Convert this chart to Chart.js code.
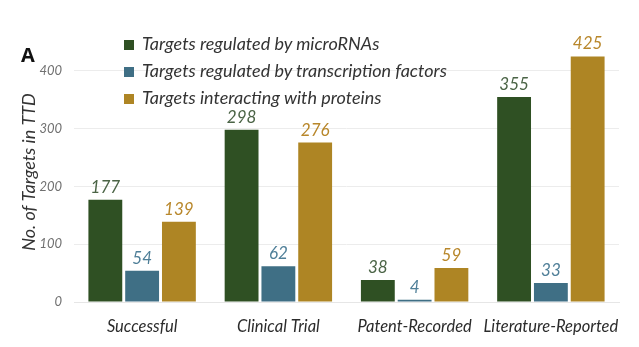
<!DOCTYPE html>
<html>
<head>
<meta charset="utf-8">
<script src="https://cdn.jsdelivr.net/npm/chart.js@4/dist/chart.umd.min.js"></script>
<style>
  html, body { margin: 0; padding: 0; background: #ffffff; }
  #wrap { position: relative; width: 639px; height: 347px; }
  #c { position: absolute; left: 0; top: 0; }
  #panelLetter { position: absolute; left: 21px; top: 41px; font: bold 20px "Open Sans", sans-serif; color: #111; }
  #legend { position: absolute; left: 124px; top: 32px; font: italic 18px Lato, sans-serif; color: #333; }
  #legend div { height: 26.8px; line-height: 22px; white-space: nowrap; }
  #legend span.box { display: inline-block; width: 10px; height: 10px; margin-right: 8px; vertical-align: 0px; }
</style>
</head>
<body>
<div id="wrap">
  <canvas id="c" width="639" height="347"></canvas>
  <div id="panelLetter">A</div>
  <div id="legend"></div>
</div>
<script>
const categories = ["Successful", "Clinical Trial", "Patent-Recorded", "Literature-Reported"];
const seriesNames = ["Targets regulated by microRNAs", "Targets regulated by transcription factors", "Targets interacting with proteins"];
const microRNA = [177, 298, 38, 355];
const transcriptionFactors = [54, 62, 4, 33];
const proteins = [139, 276, 59, 425];
const yTicks = [0, 100, 200, 300, 400];

const barColors = ["#2f5023", "#3f6f85", "#ae8524"];
const labelColors = ["#4b6446", "#4f7f98", "#b8872b"];
const seriesValues = [microRNA, transcriptionFactors, proteins];

const legendEl = document.getElementById('legend');
seriesNames.forEach((n, i) => {
  const d = document.createElement('div');
  const b = document.createElement('span');
  b.className = 'box';
  b.style.background = barColors[i];
  d.appendChild(b);
  d.appendChild(document.createTextNode(n));
  legendEl.appendChild(d);
});

const valueLabels = {
  id: 'valueLabels',
  afterDatasetsDraw(chart) {
    const ctx = chart.ctx;
    ctx.save();
    ctx.font = 'italic 17px Lato, sans-serif';
    ctx.textAlign = 'center';
    ctx.textBaseline = 'bottom';
    chart.data.datasets.forEach((ds, i) => {
      const meta = chart.getDatasetMeta(i);
      ctx.fillStyle = labelColors[i];
      meta.data.forEach((bar, j) => {
        ctx.fillText(String(ds.data[j]), bar.x, bar.y - 4);
      });
    });
    ctx.restore();
  }
};

new Chart(document.getElementById('c'), {
  type: 'bar',
  data: {
    labels: categories,
    datasets: seriesValues.map((vals, i) => ({
      label: seriesNames[i],
      data: vals,
      backgroundColor: barColors[i],
      borderWidth: 0,
      categoryPercentage: 0.81,
      barPercentage: 0.92
    }))
  },
  options: {
    responsive: false,
    animation: false,
    devicePixelRatio: 1,
    layout: { padding: { left: 0, right: 20, top: 42, bottom: 0 } },
    plugins: {
      legend: { display: false },
      tooltip: { enabled: false }
    },
    scales: {
      x: {
        grid: { display: false, drawTicks: false },
        border: { display: true, color: '#e6e6e6' },
        ticks: { color: '#2b2b2b', font: { family: 'Lato', style: 'italic', size: 16.5 }, padding: 15, maxRotation: 0, autoSkip: false },
        afterFit(scale) { scale.height = 45; }
      },
      y: {
        min: 0,
        max: 450,
        afterBuildTicks(scale) { scale.ticks = yTicks.map(v => ({ value: v })); },
        grid: { color: '#ececec', drawTicks: false },
        border: { display: false },
        ticks: { color: '#707070', font: { family: 'Lato', style: 'italic', size: 13 }, padding: 12 },
        title: { display: true, text: 'No. of Targets in TTD', color: '#333', font: { family: 'Lato', style: 'italic', size: 18 }, padding: { top: 18, bottom: 0 } },
        afterFit(scale) { scale.width = 74; }
      }
    }
  },
  plugins: [valueLabels]
});
</script>
</body>
</html>
